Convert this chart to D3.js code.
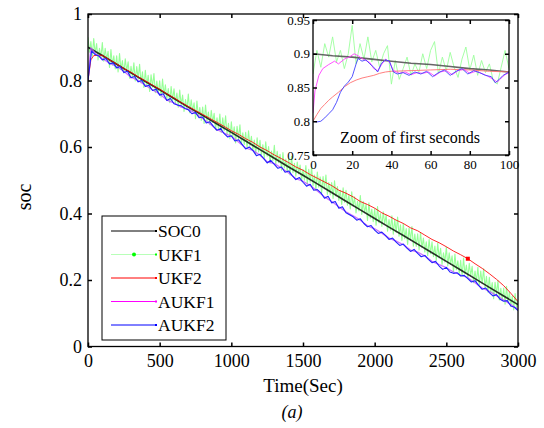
<!DOCTYPE html>
<html>
<head>
<meta charset="utf-8">
<script src="https://cdnjs.cloudflare.com/ajax/libs/d3/7.8.5/d3.min.js"></script>
<style>
body { margin: 0; background: #fff; }
svg text { font-family: "Liberation Serif", "Times New Roman", "DejaVu Serif", serif; fill: #000; }
</style>
</head>
<body>
<script>
// ---- data ----
var seriesNames = ["SOC0", "UKF1", "UKF2", "AUKF1", "AUKF2"];
var xTicks = [0, 500, 1000, 1500, 2000, 2500, 3000];
var yTicks = [0, 0.2, 0.4, 0.6, 0.8, 1];
var zoomXTicks = [0, 20, 40, 60, 80, 100];
var zoomYTicks = [0.75, 0.8, 0.85, 0.9, 0.95];

// main plot, time in seconds
var soc0Time = d3.range(0, 3001, 100);
var soc0 = [0.900, 0.875, 0.849, 0.823, 0.797, 0.772, 0.746, 0.720, 0.695, 0.669, 0.644,
  0.618, 0.592, 0.566, 0.540, 0.515, 0.489, 0.463, 0.437, 0.411, 0.385,
  0.359, 0.334, 0.308, 0.282, 0.256, 0.230, 0.204, 0.178, 0.152, 0.126];

// UKF1 is very noisy, sampled every 10 s
var ukf1Time = d3.range(0, 3001, 10);
var ukf1 = [
  0.930, 0.885, 0.917, 0.874, 0.926, 0.881, 0.911, 0.862, 0.897, 0.869,
  0.914, 0.858, 0.897, 0.863, 0.888, 0.839, 0.893, 0.846, 0.874, 0.835,
  0.874, 0.826, 0.881, 0.833, 0.860, 0.822, 0.865, 0.828, 0.856, 0.807,
  0.843, 0.810, 0.853, 0.799, 0.842, 0.804, 0.849, 0.793, 0.826, 0.779,
  0.831, 0.784, 0.816, 0.767, 0.817, 0.780, 0.821, 0.763, 0.798, 0.762,
  0.799, 0.750, 0.804, 0.757, 0.787, 0.744, 0.776, 0.733, 0.782, 0.740,
  0.775, 0.731, 0.762, 0.720, 0.771, 0.726, 0.756, 0.707, 0.743, 0.714,
  0.759, 0.703, 0.742, 0.708, 0.733, 0.685, 0.738, 0.691, 0.719, 0.680,
  0.720, 0.671, 0.726, 0.678, 0.705, 0.667, 0.710, 0.674, 0.701, 0.652,
  0.688, 0.655, 0.699, 0.644, 0.688, 0.649, 0.694, 0.638, 0.671, 0.625,
  0.676, 0.629, 0.661, 0.612, 0.662, 0.625, 0.667, 0.608, 0.643, 0.607,
  0.644, 0.596, 0.649, 0.603, 0.632, 0.589, 0.621, 0.578, 0.628, 0.585,
  0.620, 0.576, 0.607, 0.565, 0.616, 0.572, 0.601, 0.552, 0.588, 0.559,
  0.605, 0.548, 0.587, 0.553, 0.578, 0.530, 0.583, 0.537, 0.564, 0.525,
  0.565, 0.516, 0.572, 0.523, 0.551, 0.512, 0.555, 0.519, 0.546, 0.498,
  0.533, 0.500, 0.544, 0.489, 0.533, 0.494, 0.540, 0.483, 0.516, 0.470,
  0.525, 0.479, 0.510, 0.462, 0.511, 0.474, 0.516, 0.457, 0.493, 0.456,
  0.493, 0.445, 0.498, 0.452, 0.481, 0.439, 0.470, 0.427, 0.477, 0.434,
  0.470, 0.425, 0.456, 0.414, 0.465, 0.421, 0.450, 0.402, 0.437, 0.408,
  0.454, 0.397, 0.437, 0.402, 0.428, 0.379, 0.432, 0.386, 0.413, 0.375,
  0.414, 0.365, 0.421, 0.372, 0.400, 0.361, 0.405, 0.368, 0.395, 0.347,
  0.382, 0.350, 0.393, 0.338, 0.382, 0.343, 0.389, 0.332, 0.366, 0.319,
  0.370, 0.324, 0.355, 0.307, 0.356, 0.320, 0.361, 0.302, 0.338, 0.301,
  0.339, 0.290, 0.343, 0.297, 0.326, 0.284, 0.315, 0.273, 0.322, 0.279,
  0.315, 0.270, 0.302, 0.259, 0.311, 0.266, 0.295, 0.247, 0.282, 0.254,
  0.299, 0.242, 0.282, 0.247, 0.273, 0.224, 0.278, 0.231, 0.258, 0.220,
  0.259, 0.211, 0.266, 0.218, 0.245, 0.206, 0.250, 0.213, 0.241, 0.192,
  0.227, 0.195, 0.238, 0.184, 0.227, 0.189, 0.234, 0.177, 0.211, 0.164,
  0.208, 0.161, 0.192, 0.144, 0.193, 0.157, 0.198, 0.140, 0.175, 0.138,
  0.176, 0.127, 0.181, 0.134, 0.164, 0.121, 0.152, 0.110, 0.159, 0.117,
  0.136];

var ukf2Time = [0, 20, 40].concat(d3.range(100, 3001, 50));
var ukf2 = [0.800, 0.862, 0.875,
  0.876, 0.862, 0.850, 0.836, 0.825, 0.811, 0.799, 0.786, 0.774, 0.760,
  0.748, 0.734, 0.722, 0.710, 0.698, 0.686, 0.674, 0.662, 0.649, 0.638,
  0.625, 0.614, 0.600, 0.589, 0.576, 0.565, 0.553, 0.540, 0.530, 0.517,
  0.506, 0.495, 0.484, 0.470, 0.461, 0.450, 0.436, 0.427, 0.416, 0.402,
  0.392, 0.380, 0.370, 0.357, 0.348, 0.335, 0.322, 0.312, 0.300, 0.287,
  0.276, 0.264, 0.249, 0.235, 0.219, 0.202, 0.183, 0.160, 0.135];
// single square marker visible on the UKF2 curve
var ukf2MarkTime = [2650];
var ukf2Mark = [0.264];

var aukf1Time = [0, 20].concat(d3.range(50, 3001, 50));
var aukf1 = [0.812, 0.898,
  0.882, 0.866, 0.852, 0.842, 0.828, 0.810, 0.800, 0.786, 0.772, 0.760,
  0.741, 0.733, 0.720, 0.714, 0.701, 0.686, 0.670, 0.652, 0.642, 0.632,
  0.615, 0.597, 0.590, 0.575, 0.556, 0.550, 0.537, 0.522, 0.505, 0.497,
  0.484, 0.468, 0.450, 0.436, 0.420, 0.405, 0.393, 0.380, 0.363, 0.354,
  0.341, 0.326, 0.317, 0.306, 0.290, 0.284, 0.272, 0.256, 0.246, 0.237,
  0.224, 0.215, 0.207, 0.192, 0.176, 0.166, 0.153, 0.140, 0.126, 0.112];

var aukf2Time = d3.range(0, 3001, 25);
var aukf2 = [0.800, 0.889, 0.878, 0.874, 0.862, 0.866, 0.850, 0.853, 0.838, 0.842,
  0.824, 0.828, 0.808, 0.812, 0.796, 0.800, 0.782, 0.786, 0.770, 0.774,
  0.756, 0.760, 0.740, 0.746, 0.730, 0.726, 0.724, 0.716, 0.712, 0.700,
  0.704, 0.688, 0.690, 0.672, 0.676, 0.662, 0.650, 0.656, 0.640, 0.630,
  0.634, 0.618, 0.622, 0.608, 0.594, 0.600, 0.590, 0.574, 0.578, 0.566,
  0.552, 0.560, 0.548, 0.536, 0.540, 0.524, 0.528, 0.514, 0.502, 0.508,
  0.494, 0.482, 0.488, 0.470, 0.472, 0.462, 0.446, 0.452, 0.432, 0.436,
  0.416, 0.420, 0.402, 0.396, 0.390, 0.380, 0.384, 0.370, 0.360, 0.364,
  0.350, 0.340, 0.344, 0.334, 0.322, 0.326, 0.314, 0.304, 0.308, 0.296,
  0.286, 0.292, 0.280, 0.270, 0.274, 0.262, 0.252, 0.256, 0.242, 0.232,
  0.238, 0.224, 0.220, 0.222, 0.212, 0.214, 0.204, 0.194, 0.198, 0.184,
  0.172, 0.176, 0.162, 0.152, 0.156, 0.142, 0.136, 0.138, 0.122, 0.118, 0.108];

// inset: first 100 seconds
var zSoc0Time = [0, 10, 20, 30, 40, 50, 60, 70, 80, 90, 100];
var zSoc0 = [0.900, 0.897, 0.895, 0.892, 0.889, 0.886, 0.884, 0.881, 0.878, 0.876, 0.873];

var zUkf1Time = d3.range(0, 101, 2);
var zUkf1 = [0.870, 0.905, 0.880, 0.915, 0.895, 0.925, 0.888, 0.905, 0.878, 0.900,
  0.942, 0.885, 0.915, 0.892, 0.925, 0.888, 0.905, 0.880, 0.900, 0.912,
  0.855, 0.890, 0.862, 0.878, 0.895, 0.868, 0.885, 0.872, 0.900, 0.878,
  0.905, 0.918, 0.870, 0.895, 0.875, 0.902, 0.880, 0.865, 0.892, 0.910,
  0.876, 0.898, 0.868, 0.890, 0.872, 0.885, 0.860, 0.855, 0.880, 0.905, 0.878];

var zUkf2Time = [0, 2, 4, 6, 8, 10, 13, 16, 19, 22, 25, 28, 31, 34, 37, 40, 50, 60, 70, 80, 90, 100];
var zUkf2 = [0.800, 0.810, 0.819, 0.825, 0.831, 0.836, 0.843, 0.851, 0.857, 0.861, 0.864,
  0.866, 0.868, 0.871, 0.873, 0.874, 0.875, 0.876, 0.877, 0.876, 0.874, 0.873];

var zAukf1Time = [0, 1, 3, 5, 8, 11, 13, 16, 19, 21, 23, 25, 27, 29, 31, 33, 35, 37, 39, 41,
  44, 47, 50, 53, 56, 59, 62, 65, 68, 71, 74, 77, 80, 83, 86, 89, 92, 94, 96, 98, 100];
var zAukf1 = [0.812, 0.845, 0.868, 0.878, 0.884, 0.889, 0.885, 0.892, 0.896, 0.900,
  0.897, 0.893, 0.890, 0.887, 0.878, 0.875, 0.884, 0.892, 0.888, 0.875,
  0.871, 0.873, 0.869, 0.872, 0.871, 0.873, 0.867, 0.873, 0.875, 0.869,
  0.875, 0.877, 0.871, 0.874, 0.871, 0.867, 0.862, 0.858, 0.864, 0.869, 0.872];

var zAukf2Time = [0, 2, 4, 6, 8, 10, 12, 14, 16, 18, 20, 22, 23, 25, 27, 29, 31, 33, 35, 37,
  39, 41, 43, 46, 49, 52, 55, 58, 61, 64, 67, 70, 73, 76, 79, 82, 85, 88, 91, 93, 95, 97, 100];
var zAukf2 = [0.800, 0.799, 0.800, 0.805, 0.811, 0.817, 0.828, 0.843, 0.852, 0.858,
  0.866, 0.885, 0.893, 0.889, 0.891, 0.885, 0.880, 0.873, 0.886, 0.891,
  0.889, 0.873, 0.870, 0.872, 0.868, 0.873, 0.870, 0.874, 0.866, 0.872,
  0.876, 0.868, 0.874, 0.878, 0.870, 0.875, 0.872, 0.868, 0.866, 0.857,
  0.862, 0.868, 0.873];

// ---- drawing ----
var width = 544, height = 428;
var plot = {left: 88, right: 518, top: 14, bottom: 346.5};
var inset = {left: 313, right: 509, top: 20, bottom: 155};
var serif = "'Liberation Serif', 'Times New Roman', 'DejaVu Serif', serif";

var svg = d3.select("body").append("svg")
    .attr("width", width)
    .attr("height", height)
    .attr("font-family", serif);

var x = d3.scaleLinear().domain([0, 3000]).range([plot.left, plot.right]);
var y = d3.scaleLinear().domain([0, 1]).range([plot.bottom, plot.top]);

var zx = d3.scaleLinear().domain([0, 100]).range([inset.left, inset.right]);
var zy = d3.scaleLinear().domain([0.75, 0.95]).range([inset.bottom, inset.top]);

svg.append("clipPath").attr("id", "mainclip")
  .append("rect")
    .attr("x", plot.left).attr("y", plot.top)
    .attr("width", plot.right - plot.left)
    .attr("height", plot.bottom - plot.top);

svg.append("clipPath").attr("id", "zoomclip")
  .append("rect")
    .attr("x", inset.left).attr("y", inset.top)
    .attr("width", inset.right - inset.left)
    .attr("height", inset.bottom - inset.top);

function addLine(g, sx, sy, times, values, color, w, opacity) {
  var line = d3.line()
      .x(function(d) { return sx(d[0]); })
      .y(function(d) { return sy(d[1]); });
  g.append("path")
      .datum(d3.zip(times, values))
      .attr("d", line)
      .attr("fill", "none")
      .attr("stroke", color)
      .attr("stroke-width", w)
      .attr("stroke-opacity", opacity || 1)
      .attr("stroke-linejoin", "round");
}

// main series
var g_main = svg.append("g").attr("clip-path", "url(#mainclip)");
addLine(g_main, x, y, ukf1Time, ukf1, "#8cff8c", 1.1, 0.9);
addLine(g_main, x, y, soc0Time, soc0, "#000", 1.6, 0.8);
addLine(g_main, x, y, ukf2Time, ukf2, "#ff0000", 1, 0.85);
addLine(g_main, x, y, aukf1Time, aukf1, "#c050ff", 1.3, 0.8);
addLine(g_main, x, y, aukf2Time, aukf2, "#2020ff", 1.1);

g_main.selectAll(".mark")
    .data(d3.zip(ukf2MarkTime, ukf2Mark))
    .enter().append("rect")
    .attr("class", "mark")
    .attr("x", function(d) { return x(d[0]) - 2; })
    .attr("y", function(d) { return y(d[1]) - 2; })
    .attr("width", 4).attr("height", 4)
    .attr("fill", "#ff0000");

// axes with inward ticks on all four sides
function boxAxes(sx, sy, box, xt, yt, fontSize, xFmt, yFmt, xPad, yPad) {
  var g = svg.append("g");
  g.append("g")
      .attr("transform", "translate(0," + box.bottom + ")")
      .call(d3.axisBottom(sx).tickValues(xt).tickSizeInner(-4).tickSizeOuter(0)
        .tickPadding(xPad).tickFormat(xFmt));
  g.append("g")
      .attr("transform", "translate(0," + box.top + ")")
      .call(d3.axisTop(sx).tickValues(xt).tickSizeInner(-4).tickSizeOuter(0).tickFormat(""));
  g.append("g")
      .attr("transform", "translate(" + box.left + ",0)")
      .call(d3.axisLeft(sy).tickValues(yt).tickSizeInner(-4).tickSizeOuter(0)
        .tickPadding(yPad).tickFormat(yFmt));
  g.append("g")
      .attr("transform", "translate(" + box.right + ",0)")
      .call(d3.axisRight(sy).tickValues(yt).tickSizeInner(-4).tickSizeOuter(0).tickFormat(""));
  g.selectAll(".domain").remove();
  g.selectAll("g").attr("font-family", serif);
  g.selectAll(".tick line").attr("stroke", "#000").attr("stroke-width", 1.5);
  g.selectAll(".tick text")
      .attr("font-size", fontSize)
      .attr("fill", "#000");
  g.append("rect")
      .attr("x", box.left).attr("y", box.top)
      .attr("width", box.right - box.left)
      .attr("height", box.bottom - box.top)
      .attr("fill", "none")
      .attr("stroke", "#000")
      .attr("stroke-width", 1.3);
  return g;
}

boxAxes(x, y, plot, xTicks, yTicks, 18, d3.format("d"), d3.format("~g"), 8, 6);

// axis labels
svg.append("text")
    .attr("x", (plot.left + plot.right) / 2)
    .attr("y", 392)
    .attr("text-anchor", "middle")
    .attr("font-size", 19)
    .text("Time(Sec)");

svg.append("text")
    .attr("transform", "translate(31,197) rotate(-90)")
    .attr("text-anchor", "middle")
    .attr("font-size", 20)
    .text("soc");

svg.append("text")
    .attr("x", 292)
    .attr("y", 418)
    .attr("text-anchor", "middle")
    .attr("font-size", 18)
    .attr("font-style", "italic")
    .text("(a)");

// legend
var legendColors = ["#000", "#b8ffb8", "#ff0000", "#ff00ff", "#0000ff"];
var legend = svg.append("g");
legend.append("rect")
    .attr("x", 102).attr("y", 216)
    .attr("width", 124).attr("height", 124)
    .attr("fill", "#fff")
    .attr("stroke", "#000")
    .attr("stroke-width", 1);

var rows = legend.selectAll(".row")
    .data(seriesNames)
    .enter().append("g")
    .attr("class", "row")
    .attr("transform", function(d, i) { return "translate(0," + (231 + i * 23.5) + ")"; });

rows.append("line")
    .attr("x1", 111).attr("x2", 156)
    .attr("stroke", function(d, i) { return legendColors[i]; })
    .attr("stroke-width", 1);
rows.append("rect")
    .attr("x", 155).attr("y", -1)
    .attr("width", 2).attr("height", 2)
    .attr("fill", function(d, i) { return i == 1 ? "#00ff00" : legendColors[i]; });
rows.filter(function(d, i) { return i == 1; })
  .append("circle")
    .attr("cx", 134).attr("cy", 0).attr("r", 2)
    .attr("fill", "#00ff00");
rows.append("text")
    .attr("x", 158)
    .attr("y", 6)
    .attr("font-size", 17.5)
    .text(function(d) { return d; });

// inset
svg.append("rect")
    .attr("x", inset.left).attr("y", inset.top)
    .attr("width", inset.right - inset.left)
    .attr("height", inset.bottom - inset.top)
    .attr("fill", "#fff");

var g_zoom = svg.append("g").attr("clip-path", "url(#zoomclip)");
addLine(g_zoom, zx, zy, zUkf1Time, zUkf1, "#9cff9c", 0.9);
addLine(g_zoom, zx, zy, zSoc0Time, zSoc0, "#555", 1.6, 0.9);
addLine(g_zoom, zx, zy, zUkf2Time, zUkf2, "#ff7070", 0.9);
addLine(g_zoom, zx, zy, zAukf1Time, zAukf1, "#ff40ff", 0.9);
addLine(g_zoom, zx, zy, zAukf2Time, zAukf2, "#4040ff", 0.9);

boxAxes(zx, zy, inset, zoomXTicks, zoomYTicks, 13, d3.format("d"), d3.format("~g"), 5, 3);

svg.append("text")
    .attr("x", 410)
    .attr("y", 143)
    .attr("text-anchor", "middle")
    .attr("font-size", 16)
    .text("Zoom of first seconds");
</script>
</body>
</html>
